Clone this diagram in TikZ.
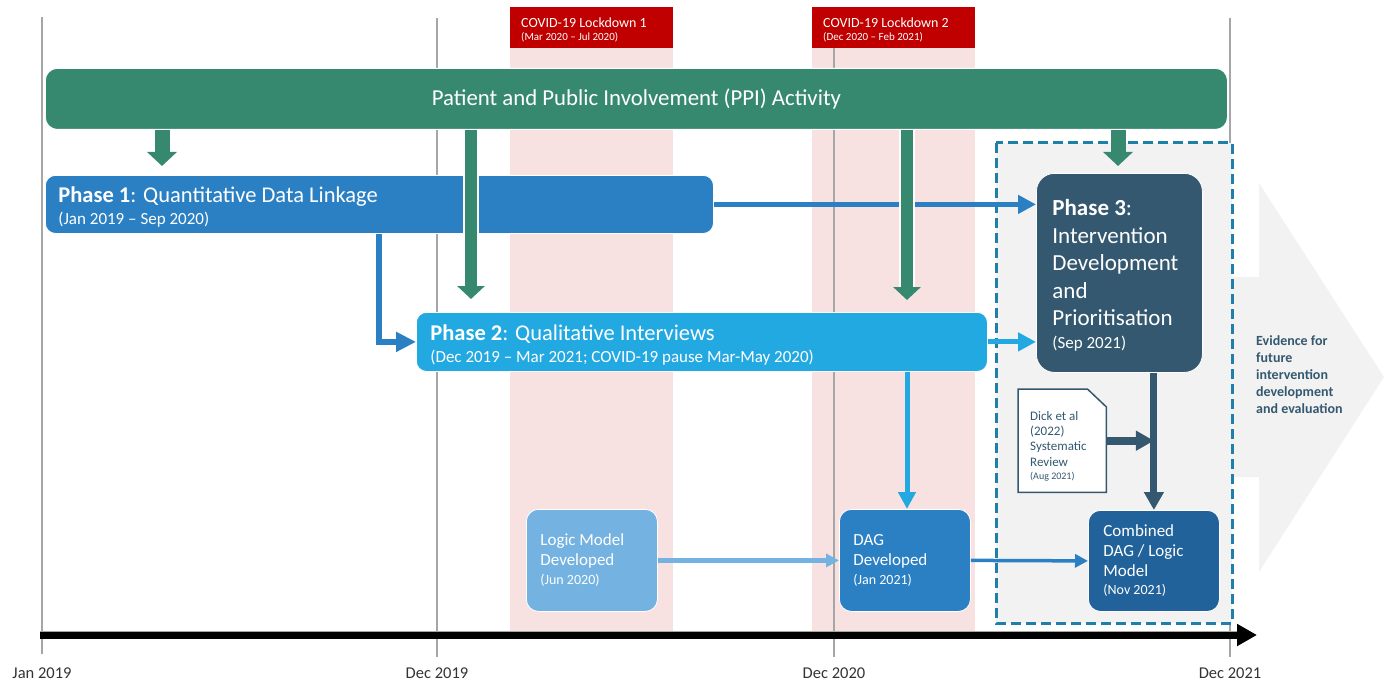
\documentclass[tikz,border=0pt]{standalone}
\usepackage{fontspec}
\setmainfont{Carlito}
\usetikzlibrary{arrows.meta}
\definecolor{ppigreen}{HTML}{36896F}
\definecolor{pblue}{HTML}{2B80C4}
\definecolor{plight}{HTML}{23A9E1}
\definecolor{slate}{HTML}{34586F}
\definecolor{combblue}{HTML}{21629A}
\definecolor{logicblue}{HTML}{74B3E1}
\definecolor{dashblue}{HTML}{1E7FA8}
\definecolor{lockpink}{HTML}{F8E2E1}
\definecolor{lockred}{HTML}{C00000}
\definecolor{lightgrey}{HTML}{F2F2F2}
\definecolor{gridgrey}{HTML}{A6A6A6}
\newcommand\nsp{\spaceskip=0pt\xspaceskip=0pt\relax}
\begin{document}
\begin{tikzpicture}[x=1pt,y=-1pt,
  phasebox/.style={rounded corners=10pt, draw=white, line width=0.8pt, anchor=north west, align=left, text=white, inner ysep=0pt},
  lockhead/.style={fill=lockred, anchor=north west, align=left, text=white, inner ysep=0pt, inner xsep=11pt, minimum width=163pt, minimum height=41pt, text width=141pt, font=\fontsize{14}{13}\selectfont},
  gridline/.style={draw=gridgrey, line width=1.2pt},
  axislbl/.style={anchor=base, inner sep=0pt, text=black!80, font=\fontsize{16.5}{18}\selectfont},
  greenshort/.style={draw=ppigreen, line width=15pt, -{Triangle[width=29pt,length=14pt]}},
  greenlong/.style={draw=ppigreen, line width=12pt, -{Triangle[width=27pt,length=13pt]}},
  whiteback/.style={draw=white, line width=16pt, shorten >=12pt},
  bluearr/.style={draw=pblue, line width=5pt, -{Triangle[width=18pt,length=18pt]}},
  lightarr/.style={draw=plight, line width=5pt, -{Triangle[width=18pt,length=18pt]}},
  slatearr/.style={draw=slate, line width=7pt, -{Triangle[width=19pt,length=18pt]}},
]
\useasboundingbox (0,0) rectangle (1390,682);

% lockdown bands
\fill[lockpink] (510,48) rectangle (673,631);
\fill[lockpink] (812,48) rectangle (975,631);

% grid lines
\draw[gridline] (42,17) -- (42,654);
\draw[gridline] (437,18) -- (437,657);
\draw[gridline] (834,18) -- (834,657);
\draw[gridline] (1230,18) -- (1230,657);

% lockdown headers
\node[lockhead] (l1) at (510,7) {\nsp\rule{0pt}{14.5pt}COVID-19 Lockdown 1\\{\fontsize{11}{13}\selectfont\nsp (Mar 2020 – Jul 2020)}};
\node[lockhead] (l2) at (812,7) {\nsp\rule{0pt}{14.5pt}COVID-19 Lockdown 2\\{\fontsize{11}{13}\selectfont\nsp (Dec 2020 – Feb 2021)}};

% big evidence chevron
\fill[lightgrey] (1232,277) -- (1259,277) -- (1259,183) -- (1384,377) -- (1259,572) -- (1259,477) -- (1232,477) -- cycle;
\node[anchor=north west, inner sep=0pt, text=slate, align=left, font=\bfseries\fontsize{14}{17}\selectfont] (evid) at (1256,335) {\nsp Evidence for\\future\\intervention\\development\\and evaluation};

% dashed phase 3 region
\draw[dashblue, line width=3pt, dash pattern=on 10pt off 5pt, fill=lightgrey] (996,143) rectangle (1232,623);

% timeline
\coordinate (tl0) at (40,635);
\coordinate (tl1) at (1257,635);
\draw[draw=gridgrey, line width=8.5pt] (tl0) -- (1238,635);
\draw[draw=black, line width=7pt, -{Triangle[width=21pt,length=20pt]}] (tl0) -- (tl1);

% axis labels
\node[axislbl] (a1) at (42,678) {Jan 2019};
\node[axislbl] (a2) at (437,678) {Dec 2019};
\node[axislbl] (a3) at (834,678) {Dec 2020};
\node[axislbl] (a4) at (1230,678) {Dec 2021};

% PPI bar
\node[phasebox, fill=ppigreen, rounded corners=12pt, minimum width=1182pt, minimum height=61pt, align=center, font=\fontsize{22.8}{26}\selectfont] (ppi) at (45,68) {\nsp Patient and Public Involvement (PPI) Activity};

% phase boxes
\node[phasebox, fill=pblue, minimum width=668pt, minimum height=58pt, inner xsep=13pt, text width=642pt, font=\fontsize{22.5}{21}\selectfont] (p1) at (45,175) {\nsp\rule{0pt}{21pt}\textbf{Phase 1}: Quantitative Data Linkage\\[1pt]{\fontsize{17}{21}\selectfont\nsp (Jan 2019 – Sep 2020)}};
\node[phasebox, fill=plight, minimum width=571pt, minimum height=59pt, inner xsep=14pt, text width=543pt, font=\fontsize{22.5}{22}\selectfont] (p2) at (416,312) {\nsp\rule{0pt}{21pt}\textbf{Phase 2}: Qualitative Interviews\\{\fontsize{17}{22}\selectfont\nsp (Dec 2019 – Mar 2021; COVID-19 pause Mar-May 2020)}};
\node[phasebox, fill=slate, rounded corners=18pt, minimum width=166pt, minimum height=199pt, inner xsep=16pt, text width=134pt, font=\fontsize{23}{27.5}\selectfont] (p3) at (1036,173) {\nsp\rule{0pt}{21pt}\textbf{Phase 3}:\\Intervention\\Development\\and\\Prioritisation\\[-4.5pt]{\fontsize{17}{27.5}\selectfont\nsp (Sep 2021)}};

% lower boxes
\node[phasebox, fill=logicblue, rounded corners=12pt, minimum width=131pt, minimum height=102pt, inner xsep=14pt, text width=103pt, font=\fontsize{17}{20}\selectfont] (logic) at (526,509) {\nsp Logic Model\\Developed\\[-1pt]{\fontsize{14}{20}\selectfont\nsp (Jun 2020)}};
\node[phasebox, fill=pblue, rounded corners=12pt, minimum width=131pt, minimum height=102pt, inner xsep=14pt, text width=103pt, font=\fontsize{17}{20}\selectfont] (dag) at (839,509) {\nsp DAG\\Developed\\[-1pt]{\fontsize{14}{20}\selectfont\nsp (Jan 2021)}};
\node[phasebox, fill=combblue, rounded corners=12pt, minimum width=131pt, minimum height=101pt, inner xsep=15pt, text width=101pt, font=\fontsize{17}{20}\selectfont] (comb) at (1088,510) {\nsp Combined\\DAG / Logic\\Model\\[-2pt]{\fontsize{14}{20}\selectfont\nsp (Nov 2021)}};

% document
\node[anchor=north west, minimum width=88pt, minimum height=103pt, inner sep=0pt] (doc) at (1018,389) {};
\filldraw[fill=white, draw=slate, line width=1.5pt] (doc.north west) -- ([xshift=-19pt]doc.north east) -- ([yshift=-18pt]doc.north east) -- (doc.south east) -- (doc.south west) -- cycle;
\node[anchor=north west, inner sep=0pt, text=slate, align=left, font=\fontsize{13}{15.3}\selectfont] (doctext) at (1030,411) {\nsp Dick et al\\(2022)\\Systematic\\Review\\[-1.5pt]{\fontsize{10}{15.3}\selectfont\nsp (Aug 2021)}};

% blue connectors
\coordinate (e1) at (379,0);
\draw[draw=pblue, line width=6pt, -{Triangle[width=19pt,length=20pt]}] (p1.south -| e1) |- (p2.west);
\draw[bluearr] (p1.east) -- (p1.east -| p3.west);
\draw[lightarr] (p2.east) -- (p2.east -| p3.west);
\coordinate (v2) at (907,0);
\draw[draw=plight, line width=5pt, -{Triangle[width=17pt,length=17pt]}] (p2.south -| v2) -- (dag.north -| v2);
\draw[draw=logicblue, line width=5pt, -{Triangle[width=13pt,length=13pt]}] (logic.east) -- (dag.west);
\draw[draw=pblue, line width=3.5pt, -{Triangle[width=13pt,length=13pt]}] (dag.east) -- (comb.west);
\draw[draw=slate, line width=8pt, -{Triangle[width=19pt,length=18pt]}] (doc.east) -- (doc.east -| comb.north);
\draw[slatearr] (p3.south -| comb.north) -- (comb.north);

% green PPI arrows
\coordinate (g1) at (162,166);
\coordinate (g2) at (471,299);
\coordinate (g3) at (907,300);
\coordinate (g4) at (1118,166);
\draw[greenshort] (ppi.south -| g1) -- (g1);
\draw[whiteback] (ppi.south -| g2) -- (g2);
\draw[greenlong] (ppi.south -| g2) -- (g2);
\draw[whiteback] (ppi.south -| g3) -- (g3);
\draw[greenlong] (ppi.south -| g3) -- (g3);
\draw[greenshort] (ppi.south -| g4) -- (g4);
\end{tikzpicture}
\end{document}
